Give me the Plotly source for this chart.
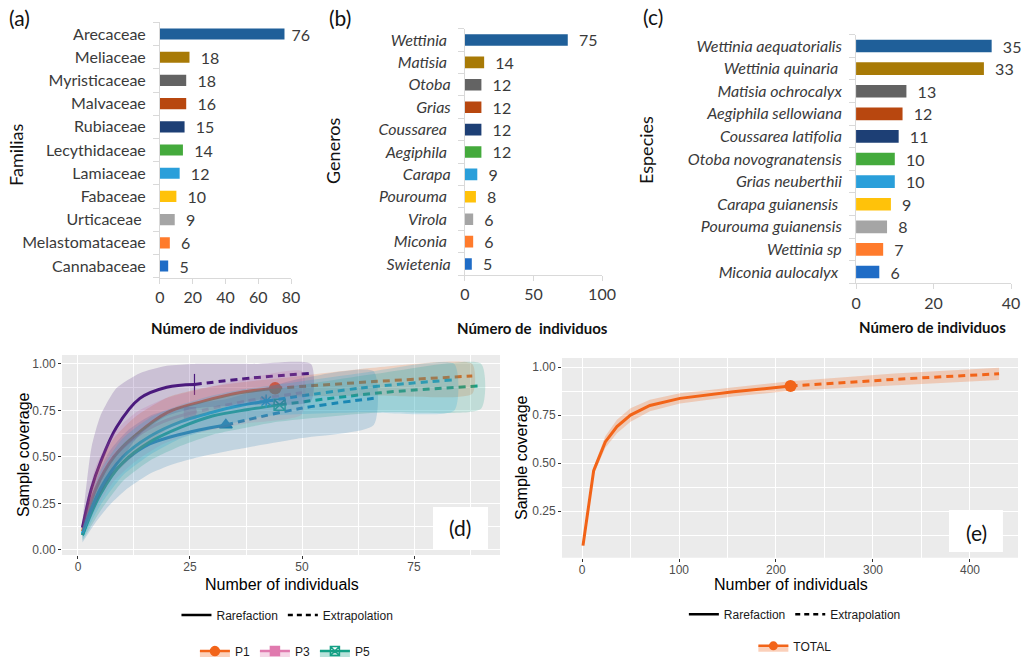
import plotly.graph_objects as go

# ---------------- data: bar panels ----------------
familias = ["Arecaceae", "Meliaceae", "Myristicaceae", "Malvaceae", "Rubiaceae", "Lecythidaceae",
            "Lamiaceae", "Fabaceae", "Urticaceae ", "Melastomataceae", "Cannabaceae"]
familias_val = [76, 18, 16, 16, 15, 14, 12, 10, 9, 6, 5]
familias_lab = ["76", "18", "18", "16", "15", "14", "12", "10", "9", "6", "5"]

generos = ["Wettinia ", "Matisia ", "Otoba", "Grias", "Coussarea ", "Aegiphila ",
           "Carapa", "Pourouma ", "Virola ", "Miconia ", "Swietenia"]
generos_val = [75, 14, 12, 12, 12, 12, 9, 8, 6, 6, 5]

especies = ["Wettinia aequatorialis", "Wettinia quinaria ", "Matisia ochrocalyx", "Aegiphila sellowiana",
            "Coussarea latifolia", "Otoba novogranatensis", "Grias neuberthii", "Carapa guianensis ",
            "Pourouma guianensis", "Wettinia sp", "Miconia aulocalyx "]
especies_val = [35, 33, 13, 12, 11, 10, 10, 9, 8, 7, 6]

bar_colors = ["#1F5F99", "#A87A06", "#636363", "#B8470F", "#1D3F75", "#44AA3C",
              "#2A9FDA", "#FFC20A", "#A5A5A5", "#FF7B2C", "#1F6CC6"]

# ---------------- data: coverage curves (d) ----------------
sites = ["P1", "P2", "P3", "P4", "P5", "P6"]
site_colors = {"P1": "#F26419", "P2": "#1F78B4", "P3": "#E07AAE",
               "P4": "#4B1B7E", "P5": "#14A085", "P6": "#13A6D9"}
site_symbols = {"P1": "circle", "P2": "triangle-up", "P3": "square",
                "P4": "line-ns", "P5": "square-x-open", "P6": "asterisk-open"}

rare_x = {
    "P1": [1, 4, 8, 13, 20, 28, 36, 44],
    "P2": [1, 4, 7, 11, 16, 21, 27, 33],
    "P3": [1, 4, 8, 13, 19, 25],
    "P4": [1, 3, 5, 8.6, 13.8, 19.8, 26],
    "P5": [1, 5, 10, 16, 23, 30, 38, 45],
    "P6": [1, 5, 10, 16, 23, 30, 36, 42],
}
rare_y = {
    "P1": [0.10, 0.33, 0.50, 0.62, 0.74, 0.80, 0.845, 0.869],
    "P2": [0.08, 0.27, 0.39, 0.49, 0.57, 0.61, 0.645, 0.672],
    "P3": [0.12, 0.33, 0.50, 0.61, 0.69, 0.735],
    "P4": [0.12, 0.33, 0.47, 0.66, 0.815, 0.875, 0.89],
    "P5": [0.08, 0.30, 0.47, 0.58, 0.66, 0.72, 0.755, 0.78],
    "P6": [0.09, 0.33, 0.50, 0.61, 0.69, 0.74, 0.775, 0.80],
}
rare_lo = {
    "P1": [0.07, 0.25, 0.40, 0.52, 0.65, 0.73, 0.79, 0.82],
    "P2": [0.04, 0.15, 0.24, 0.33, 0.41, 0.46, 0.50, 0.53],
    "P3": [0.08, 0.22, 0.37, 0.48, 0.57, 0.62],
    "P4": [0.09, 0.20, 0.30, 0.45, 0.62, 0.72, 0.76],
    "P5": [0.05, 0.21, 0.37, 0.48, 0.56, 0.62, 0.66, 0.69],
    "P6": [0.06, 0.24, 0.40, 0.51, 0.60, 0.65, 0.69, 0.72],
}
rare_hi = {
    "P1": [0.13, 0.42, 0.60, 0.72, 0.82, 0.87, 0.90, 0.92],
    "P2": [0.12, 0.38, 0.53, 0.64, 0.72, 0.76, 0.79, 0.81],
    "P3": [0.16, 0.45, 0.63, 0.74, 0.81, 0.85],
    "P4": [0.16, 0.55, 0.72, 0.87, 0.95, 0.99, 1.00],
    "P5": [0.11, 0.39, 0.57, 0.68, 0.76, 0.81, 0.85, 0.87],
    "P6": [0.12, 0.42, 0.60, 0.71, 0.78, 0.83, 0.86, 0.88],
}
ext_x = {
    "P1": [44, 66, 88], "P2": [33, 49.5, 66], "P3": [25, 37.5, 50],
    "P4": [26, 39, 52], "P5": [45, 67.5, 90], "P6": [42, 63, 84],
}
ext_y = {
    "P1": [0.869, 0.905, 0.935], "P2": [0.672, 0.76, 0.815], "P3": [0.735, 0.80, 0.845],
    "P4": [0.89, 0.925, 0.95], "P5": [0.78, 0.845, 0.882], "P6": [0.80, 0.87, 0.915],
}
ext_lo = {
    "P1": [0.82, 0.83, 0.84], "P2": [0.53, 0.60, 0.672], "P3": [0.62, 0.68, 0.73],
    "P4": [0.76, 0.78, 0.80], "P5": [0.69, 0.74, 0.76], "P6": [0.72, 0.74, 0.75],
}
ext_hi = {
    "P1": [0.92, 0.98, 1.00], "P2": [0.81, 0.92, 0.96], "P3": [0.85, 0.92, 0.96],
    "P4": [1.00, 1.00, 1.00], "P5": [0.87, 0.95, 1.00], "P6": [0.88, 0.95, 1.00],
}
legend_sites = ["P1", "P3", "P5"]

# ---------------- data: coverage curve (e) ----------------
tot_rare_x = [1, 12, 24, 36, 50, 70, 101, 156, 215]
tot_rare_y = [0.07, 0.46, 0.61, 0.69, 0.75, 0.80, 0.837, 0.871, 0.901]
tot_rare_lo = [0.065, 0.44, 0.58, 0.655, 0.715, 0.77, 0.81, 0.847, 0.876]
tot_rare_hi = [0.075, 0.48, 0.64, 0.725, 0.785, 0.83, 0.864, 0.895, 0.926]
tot_ext_x = [215, 322, 430]
tot_ext_y = [0.901, 0.936, 0.965]
tot_ext_lo = [0.876, 0.906, 0.933]
tot_ext_hi = [0.926, 0.966, 0.997]
tot_color = "#F26419"


def rgba(h, a):
    h = h.lstrip("#")
    return "rgba(%d,%d,%d,%.3f)" % (int(h[0:2], 16), int(h[2:4], 16), int(h[4:6], 16), a)


CAL = "Lato, Carlito, 'Open Sans', sans-serif"
GG = "'Liberation Sans', Arial, Helvetica, sans-serif"
TXT = "#3A3A3A"

fig = go.Figure()

# ---------------- bar panels ----------------
def add_bars(cats, vals, labs, ax, width, first_tight=False):
    tmpl = []
    for i in range(len(vals)):
        tmpl.append("\u00a0%{text}" if (first_tight and i == 0) else "\u00a0\u00a0%{text}")
    fig.add_trace(go.Bar(
        x=vals, y=cats, orientation="h", marker=dict(color=bar_colors, line=dict(width=0)),
        text=labs, texttemplate=tmpl, textposition="outside", cliponaxis=False,
        constraintext="none", textangle=0,
        textfont=dict(family=CAL, size=16, color=TXT),
        outsidetextfont=dict(family=CAL, size=16, color=TXT), width=width,
        xaxis="x" + ax, yaxis="y" + ax, showlegend=False, hoverinfo="skip"))

add_bars(familias, familias_val, familias_lab, "", 0.48, first_tight=True)
add_bars(generos, generos_val, [str(v) for v in generos_val], "2", 0.52)
add_bars(especies, especies_val, [str(v) for v in especies_val], "3", 0.56)

# ---------------- panel (d) ----------------
for s in sites:
    c = site_colors[s]
    lw = 3
    op = 0.55 if s == "P3" else 1.0
    fig.add_trace(go.Scatter(x=rare_x[s], y=rare_y[s], mode="lines",
                             line=dict(color=c, width=lw, shape="spline", smoothing=1.0),
                             opacity=op, xaxis="x4", yaxis="y4", showlegend=False, hoverinfo="skip"))
    fig.add_trace(go.Scatter(x=ext_x[s], y=ext_y[s], mode="lines",
                             line=dict(color=c, width=lw, dash="7px,5px", shape="spline"), opacity=op,
                             xaxis="x4", yaxis="y4", showlegend=False, hoverinfo="skip"))
    sym = site_symbols[s]
    mk = dict(symbol=sym, size=11, color=c, line=dict(color=c, width=1.5))
    if sym == "line-ns":
        mk = dict(symbol=sym, size=15, color=c, line=dict(color=c, width=1.2))
    fig.add_trace(go.Scatter(x=[rare_x[s][-1]], y=[rare_y[s][-1]], mode="markers", marker=mk,
                             opacity=op, xaxis="x4", yaxis="y4", showlegend=False, hoverinfo="skip"))

for s in sites:
    c = site_colors[s]
    bx = rare_x[s] + ext_x[s][1:]
    bhi = rare_hi[s] + ext_hi[s][1:]
    blo = rare_lo[s] + ext_lo[s][1:]
    fig.add_trace(go.Scatter(x=bx + bx[::-1], y=bhi + blo[::-1], mode="lines", fill="toself",
                             fillcolor=rgba(c, 0.2), line=dict(width=0, shape="spline", smoothing=0.6),
                             xaxis="x4", yaxis="y4", showlegend=False, hoverinfo="skip"))

# ---------------- panel (e) ----------------
fig.add_trace(go.Scatter(x=tot_rare_x, y=tot_rare_y, mode="lines", line=dict(color=tot_color, width=3),
                         xaxis="x5", yaxis="y5", showlegend=False, hoverinfo="skip"))
fig.add_trace(go.Scatter(x=tot_ext_x, y=tot_ext_y, mode="lines",
                         line=dict(color=tot_color, width=3, dash="7px,5px"),
                         xaxis="x5", yaxis="y5", showlegend=False, hoverinfo="skip"))
fig.add_trace(go.Scatter(x=[tot_rare_x[-1]], y=[tot_rare_y[-1]], mode="markers",
                         marker=dict(symbol="circle", size=12, color=tot_color),
                         xaxis="x5", yaxis="y5", showlegend=False, hoverinfo="skip"))
tbx = tot_rare_x + tot_ext_x[1:]
tbhi = tot_rare_hi + tot_ext_hi[1:]
tblo = tot_rare_lo + tot_ext_lo[1:]
fig.add_trace(go.Scatter(x=tbx + tbx[::-1], y=tbhi + tblo[::-1], mode="lines", fill="toself",
                         fillcolor=rgba(tot_color, 0.25), line=dict(width=0), xaxis="x5", yaxis="y5",
                         showlegend=False, hoverinfo="skip"))

# ---------------- legends ----------------
for lg, ax in (("legend", "4"), ("legend3", "5")):
    fig.add_trace(go.Scatter(x=[None], y=[None], mode="lines", line=dict(color="black", width=2.5),
                             name="Rarefaction", legend=lg, xaxis="x" + ax, yaxis="y" + ax))
    fig.add_trace(go.Scatter(x=[None], y=[None], mode="lines",
                             line=dict(color="black", width=2.5, dash="5px,4px"),
                             name="Extrapolation", legend=lg, xaxis="x" + ax, yaxis="y" + ax))
for s in legend_sites:
    c = site_colors[s]
    fig.add_trace(go.Scatter(x=[None], y=[None], mode="lines+markers", name=s, legend="legend2",
                             line=dict(color=c, width=2.5),
                             marker=dict(symbol=site_symbols[s], size=9, color=c, line=dict(color=c, width=1.5)),
                             fill="toself", fillcolor=rgba(c, 0.3), xaxis="x4", yaxis="y4"))
fig.add_trace(go.Scatter(x=[None], y=[None], mode="lines+markers", name="TOTAL", legend="legend4",
                         line=dict(color=tot_color, width=2.5), marker=dict(symbol="circle", size=9, color=tot_color),
                         fill="toself", fillcolor=rgba(tot_color, 0.3), xaxis="x5", yaxis="y5"))

# ---------------- axes ----------------
AXC = "#D9D9D9"

def bar_xaxis(dom, rng, dt, anchor):
    return dict(domain=dom, range=rng, dtick=dt, tick0=0, showgrid=False, zeroline=False,
                showline=True, linecolor=AXC, linewidth=1, ticks="outside", ticklen=5,
                tickcolor=AXC, tickfont=dict(family=CAL, size=16, color=TXT), anchor=anchor,
                automargin=False)

def bar_yaxis(dom, cats, anchor, italic):
    return dict(domain=dom, type="category", categoryorder="array", categoryarray=cats,
                autorange="reversed", tickmode="array", tickvals=cats,
                ticktext=[c[:-1] + "\u00a0" if c.endswith(" ") else c for c in cats],
                showgrid=False, zeroline=False, showline=True, linecolor=AXC, linewidth=1,
                ticks="outside", ticklen=6, tickcolor=AXC, tickson="boundaries",
                ticklabelstandoff=10, automargin=False,
                tickfont=dict(family=CAL, size=16, color=TXT, style="italic" if italic else "normal"),
                anchor=anchor)

def gg_axis(dom, rng, dt, anchor, fmt=None, minor_dt=None, standoff=0):
    d = dict(domain=dom, range=rng, dtick=dt, tick0=0, showgrid=True, gridcolor="white",
             gridwidth=1.3, zeroline=False, showline=False, ticks="outside", ticklen=3,
             tickcolor="#333333", tickwidth=1, automargin=False, ticklabelstandoff=standoff,
             tickfont=dict(family=GG, size=12, color="#4D4D4D"), anchor=anchor,
             minor=dict(dtick=minor_dt, tick0=0, showgrid=True, gridcolor="white", gridwidth=0.6, ticks=""))
    if fmt:
        d["tickformat"] = fmt
    return d

layout = dict(
    width=1023, height=659, margin=dict(l=0, r=0, t=0, b=0, autoexpand=False),
    paper_bgcolor="white", plot_bgcolor="white", bargap=0.5,
    xaxis=bar_xaxis([0.1564, 0.2845], [0, 80], 20, "y"),
    yaxis=bar_yaxis([0.5787, 0.9660], familias, "x", False),
    xaxis2=bar_xaxis([0.4545, 0.5885], [0, 100], 50, "y2"),
    yaxis2=bar_yaxis([0.5824, 0.9563], generos, "x2", True),
    xaxis3=bar_xaxis([0.8368, 0.9883], [0, 40], 20, "y3"),
    yaxis3=bar_yaxis([0.5701, 0.9473], especies, "x3", True),
    xaxis4=gg_axis([0.0606, 0.4888], [-3.57, 94.2], 25, "y4", minor_dt=12.5, standoff=-2),
    yaxis4=gg_axis([0.1578, 0.4613], [-0.027, 1.048], 0.25, "x4", fmt=".2f", minor_dt=0.125),
    xaxis5=gg_axis([0.5494, 0.9951], [-20.6, 449.5], 100, "y5", minor_dt=50, standoff=-2),
    yaxis5=gg_axis([0.1537, 0.4567], [0.007, 1.047], 0.25, "x5", fmt=".2f", minor_dt=0.125),
)

leg_common = dict(orientation="h", xanchor="center", yanchor="middle", bgcolor="rgba(0,0,0,0)",
                  font=dict(family=GG, size=12, color="#1A1A1A"), itemwidth=30, tracegroupgap=0)
layout["legend"] = dict(leg_common, x=0.281, y=0.0668)
layout["legend2"] = dict(leg_common, x=0.279, y=0.0120)
layout["legend3"] = dict(leg_common, x=0.777, y=0.068)
layout["legend4"] = dict(leg_common, x=0.777, y=0.020)
fig.update_layout(**layout)

# gray ggplot panels
for ax in ("4", "5"):
    fig.add_shape(type="rect", xref="x%s domain" % ax, yref="y%s domain" % ax, x0=0, x1=1, y0=0, y1=1,
                  fillcolor="#EBEBEB", line=dict(width=0), layer="below")

# panel label boxes
fig.add_shape(type="rect", xref="paper", yref="paper", x0=0.4233, x1=0.4770, y0=0.1669, y1=0.2307,
              fillcolor="white", line=dict(width=0))
fig.add_shape(type="rect", xref="paper", yref="paper", x0=0.9277, x1=0.9804, y0=0.1624, y1=0.2261,
              fillcolor="white", line=dict(width=0))

ann = []
def A(text, x, y, size, family=CAL, bold=False, angle=0, color="#111111"):
    ann.append(dict(text=("<b>%s</b>" % text) if bold else text, x=x, y=y, xref="paper", yref="paper",
                    showarrow=False, xanchor="center", yanchor="middle", textangle=angle,
                    font=dict(family=family, size=size, color=color)))

A("(a)", 0.0186, 0.9727, 21)
A("(b)", 0.3319, 0.9727, 21)
A("(c)", 0.6383, 0.9757, 21)
A("Familias", 0.0156, 0.7648, 18, angle=-90)
A("Generos", 0.3255, 0.7709, 18, angle=-90)
A("Especies", 0.6315, 0.7724, 18, angle=-90)
A("Número de individuos", 0.219, 0.5023, 15, bold=True)
A("Número de\u00a0 individuos", 0.5205, 0.5023, 15, bold=True)
A("Número de individuos", 0.912, 0.5038, 15, bold=True)
A("(d)", 0.4501, 0.1988, 21)
A("(e)", 0.9541, 0.1912, 21)
A("Sample coverage", 0.0235, 0.3096, 16, family=GG, angle=-90, color="#000000")
A("Sample coverage", 0.5093, 0.305, 16, family=GG, angle=-90, color="#000000")
A("Number of individuals", 0.2757, 0.1130, 16, family=GG, color="#000000")
A("Number of individuals", 0.7732, 0.1130, 16, family=GG, color="#000000")
fig.update_layout(annotations=ann)

fig.write_html("out.html", config={"displayModeBar": False},
               post_script="document.body.style.margin='0px';document.body.style.overflow='hidden';")
